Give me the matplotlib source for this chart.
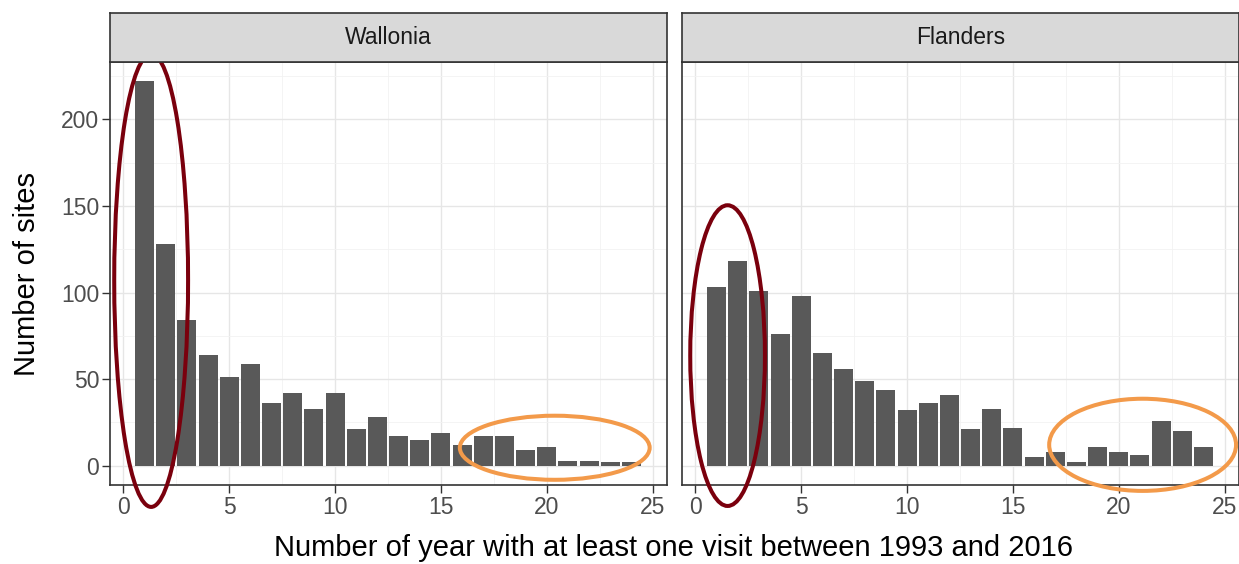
import matplotlib
matplotlib.use("Agg")
import matplotlib.pyplot as plt
from matplotlib.patches import Ellipse
from matplotlib.ticker import MultipleLocator

plt.rcParams['font.family'] = ['Liberation Sans', 'DejaVu Sans']

years = list(range(1, 25))
wallonia = [222, 128, 84, 64, 51, 59, 36, 42, 33, 42, 21, 28, 17, 15,
            19, 12, 17, 17, 9, 11, 3, 3, 2, 2]
flanders = [103, 118, 101, 76, 98, 65, 56, 49, 44, 32, 36, 41, 21, 33,
            22, 5, 8, 2, 11, 8, 6, 26, 20, 11]
panels = ["Wallonia", "Flanders"]
x_ticks = [0, 5, 10, 15, 20, 25]
y_ticks = [0, 50, 100, 150, 200]

W, H = 1239, 564
fig = plt.figure(figsize=(W / 100, H / 100), dpi=100)

def fx(px):
    return px / W

def fy(py):
    return 1 - py / H

panel_top, panel_bot = 62, 485
strip_top = 12.5
lefts = [110.3, 682.3]
width_px = 556.2

dark = "#333333"
axes = []
for i, (name, vals) in enumerate(zip(panels, [wallonia, flanders])):
    ax = fig.add_axes([fx(lefts[i]), fy(panel_bot), fx(width_px), (panel_bot - panel_top) / H])
    ax.set_facecolor("white")
    ax.bar(years, vals, width=0.9, color="#595959", zorder=3)
    ax.set_xlim(-0.62, 25.66)
    ax.set_ylim(-11.1, 233.1)
    ax.xaxis.set_minor_locator(MultipleLocator(2.5))
    ax.yaxis.set_minor_locator(MultipleLocator(25))
    ax.set_xticks(x_ticks)
    ax.set_yticks(y_ticks)
    ax.grid(True, which="major", color="#E6E6E6", lw=1.0, zorder=0)
    ax.grid(True, which="minor", color="#F2F2F2", lw=0.6, zorder=0)
    ax.tick_params(which="minor", length=0)
    ax.tick_params(which="major", length=5.5, width=1.0, color=dark,
                   labelsize=16.5, labelcolor="#4D4D4D", pad=2.5)
    for s in ax.spines.values():
        s.set_color(dark)
        s.set_linewidth(1.2)
    if i == 1:
        ax.tick_params(axis="y", left=False, labelleft=False)
    # strip
    sax = fig.add_axes([fx(lefts[i]), fy(panel_top), fx(width_px), (panel_top - strip_top) / H])
    sax.set_facecolor("#D9D9D9")
    sax.set_xticks([])
    sax.set_yticks([])
    for s in sax.spines.values():
        s.set_color(dark)
        s.set_linewidth(1.2)
    sax.text(0.5, 0.5, name, ha="center", va="center", fontsize=16.5,
             color="#1A1A1A", transform=sax.transAxes)
    axes.append(ax)

fig.text(fx(27), fy(273.5), "Number of sites", rotation=90, ha="center", va="center",
         fontsize=21, color="black")
fig.text(fx(674), fy(548), "Number of year with at least one visit between 1993 and 2016",
         ha="center", va="center", fontsize=21, color="black")

# annotation ellipses (data coordinates)
red = "#7A000D"
orange = "#F39A4A"
ell = [
    (axes[0], (1.31, 107), 3.49, 261.5, red),
    (axes[1], (1.52, 63.6), 3.53, 173.6, red),
    (axes[0], (20.38, 10.4), 8.97, 37, orange),
    (axes[1], (21.13, 12.1), 8.83, 53.2, orange),
]
for ax, c, w, h, col in ell:
    e = Ellipse(c, w, h, fill=False, edgecolor=col, lw=2.9, clip_on=False, zorder=10)
    ax.add_patch(e)

fig.savefig("out.png", dpi=100)
